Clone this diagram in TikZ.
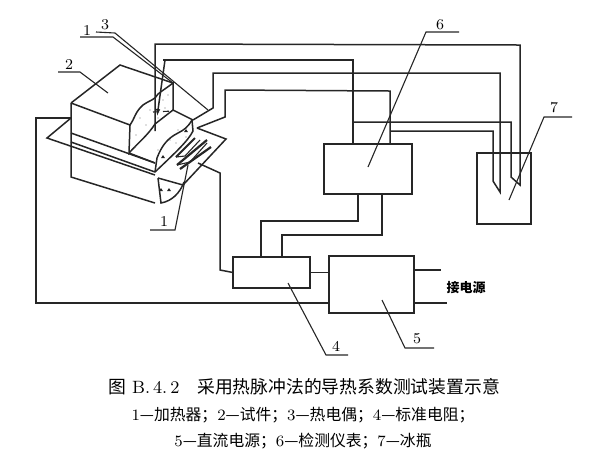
\documentclass[tikz,border=0pt]{standalone}
\usepackage{fontspec}
\usepackage{tikz}
\usetikzlibrary{arrows.meta}
\newfontfamily\cjk{Noto Sans CJK SC}
\tikzset{
  wire/.style={black!85,line width=0.75pt},
  thin wire/.style={black!85,line width=0.55pt},
  boxnode/.style={draw,black!85,line width=0.75pt,inner sep=0pt,outer sep=0pt},
  numlabel/.style={inner sep=0pt,font=\fontsize{7.5}{9}\selectfont},
}
\begin{document}
\begin{tikzpicture}[x=0.5pt,y=-0.5pt]
\useasboundingbox (0,0) rectangle (601,463);

% boxes
\node[boxnode,minimum width=44pt,minimum height=25pt] (box6) at (368,169) {};
\node[boxnode,minimum width=27pt,minimum height=35.5pt] (box7) at (504,188.5) {};
\node[boxnode,minimum width=38.5pt,minimum height=15.5pt] (box4) at (271.5,272.5) {};
\node[boxnode,minimum width=42.5pt,minimum height=28.5pt] (box5) at (371.5,284.5) {};

% specimen block
\draw[wire] (71,103) -- (120,65) -- (173,83);
\draw[wire] (71,103) -- (130,125) .. controls (135,118) and (135,112) .. (143,105)
  .. controls (150,100) and (155,100) .. (158,94) .. controls (163,90) and (168,87) .. (173,83) -- (173,110);
\draw[wire] (130,125) -- (129,153) .. controls (138,143) and (148,135) .. (155,124) -- (173,110) -- (193,120);
\draw[thin wire,densely dashed] (153,112) -- (173,111);
\draw[wire] (71,103) -- (71,177) -- (155,203);
\draw[wire] (71,133) -- (155,163);
\draw[wire] (71,142) -- (155,172);
\draw[wire] (129,153) -- (155,163);
\foreach \dotx/\doty in {140/118,146/125,136/135,150/110,163/100,168/95,165/108,158/118,135/147,178/130,170/140,158/150,176/143,186/137}
  \fill[black!55] (\dotx,\doty) circle (0.35pt);
% upper heater
\draw[wire] (192,120) .. controls (188,127) and (184,130) .. (178,133)
  .. controls (168,138) and (162,145) .. (157,158) -- (155,172);
\draw[wire] (192,120) -- (193,131) .. controls (188,141) and (176,152) .. (155,172);
% heater plate
\draw[wire] (71,118) -- (47,138) -- (155,175);
\draw[wire] (158,178) -- (183,185) -- (226,139) -- (197,128);
% lower heater
\draw[wire] (158,178) -- (161,203) .. controls (172,201) and (180,193) .. (184,182);
\fill[black!85] (161,188) -- (163,191) -- (159,191) -- cycle;
\fill[black!85] (169,188) -- (171,191) -- (167,191) -- cycle;
\fill[black!85] (186,129) -- (188,132) -- (184,132) -- cycle;
\fill[black!85] (163,155) -- (165,158) -- (161,158) -- cycle;
% heating wires
\draw[black!85,line width=1pt] (176,157) -- (195,138);
\draw[black!85,line width=1.1pt] (177,165) -- (207,140);
\draw[black!85,line width=1.1pt] (180,169) -- (211,147);
\draw[thin wire] (176,157) -- (185,156) -- (200,140) (177,165) -- (190,162) -- (207,143);

% wires on the top
\coordinate (c6a) at (353,144);
\coordinate (c6b) at (390,144);
\coordinate (c6c) at (358,194);
\coordinate (c6d) at (382,194);
\coordinate (c4a) at (261,257);
\coordinate (c4b) at (282,257);
\draw[wire] (155,131) -- (155,44) -- (520,45) -- (520,185) -- (511,177) -- (511,122) -- (353,122);
\draw[wire,-{Latex[length=4pt,width=2.2pt]}] (165,60) -- (157,117);
\draw[wire] (163,60) -- (353,60) -- (c6a);
\draw[wire] (193,120) -- (213,108) -- (213,73) -- (500,73) -- (500,192) -- (493,181) -- (493,131) -- (390,131);
\draw[wire] (197,128) -- (225,117) -- (225,90) -- (390,91) -- (c6b);
\draw[wire] (c6c) -- (358,221) -- (261,221) -- (c4a);
\draw[wire] (c6d) -- (382,235) -- (282,235) -- (c4b);

% wires round box 4 and 5
\draw[wire] (198,163) -- (220,173) -- (220,270) -- (box4.west);
\draw[wire] (box4.east) -- (box5.west |- box4.east);
\draw[wire] (71,118) -- (36,118) -- (36,303) -- (box5.west |- 36,303);
\draw[wire] (box5.east |- 0,270) -- (441,270);
\draw[wire] (box5.east |- 0,303) -- (447,303);
\node[inner sep=0pt,font=\cjk\bfseries\fontsize{6.5}{8}\selectfont] (lbsrc) at (466,288) {接电源};

% leaders
\draw[thin wire] (80,37) -- (113,37) -- (173,83);
\draw[thin wire] (96,32) -- (115,33) -- (208,110);
\draw[thin wire] (58,72) -- (80,72) -- (108,93);
\draw[thin wire] (150,230) -- (175,230) -- (188,165);
\draw[thin wire] (368,167) -- (426,32) -- (459,32);
\draw[thin wire] (509,200) -- (544,117) -- (572,117);
\draw[thin wire] (288,283) -- (326,355) -- (348,355);
\draw[thin wire] (382,300) -- (405,348) -- (434,348);

% labels
\node[numlabel] (lb1a) at (87,31) {1};
\node[numlabel] (lb3) at (105,25) {3};
\node[numlabel] (lb2) at (69,65) {2};
\node[numlabel] (lb1b) at (164,222) {1};
\node[numlabel] (lb6) at (440,25) {6};
\node[numlabel] (lb7) at (554,108) {7};
\node[numlabel] (lb4) at (336,346) {4};
\node[numlabel] (lb5) at (417,339) {5};

% caption
\node[inner sep=0pt,font=\fontsize{8.9}{10}\selectfont] (cap1) at (304,387)
  {{\cjk 图} B.\,4.\,2\hspace{1em}{\cjk 采用热脉冲法的导热系数测试装置示意}};
\node[inner sep=0pt,font=\fontsize{7.9}{9}\selectfont] (cap2) at (303,415)
  {1{\cjk —加热器；}2{\cjk —试件；}3{\cjk —热电偶；}4{\cjk —标准电阻；}};
\node[inner sep=0pt,font=\fontsize{7.9}{9}\selectfont] (cap3) at (303,441)
  {5{\cjk —直流电源；}6{\cjk —检测仪表；}7{\cjk —冰瓶}};
\end{tikzpicture}
\end{document}
